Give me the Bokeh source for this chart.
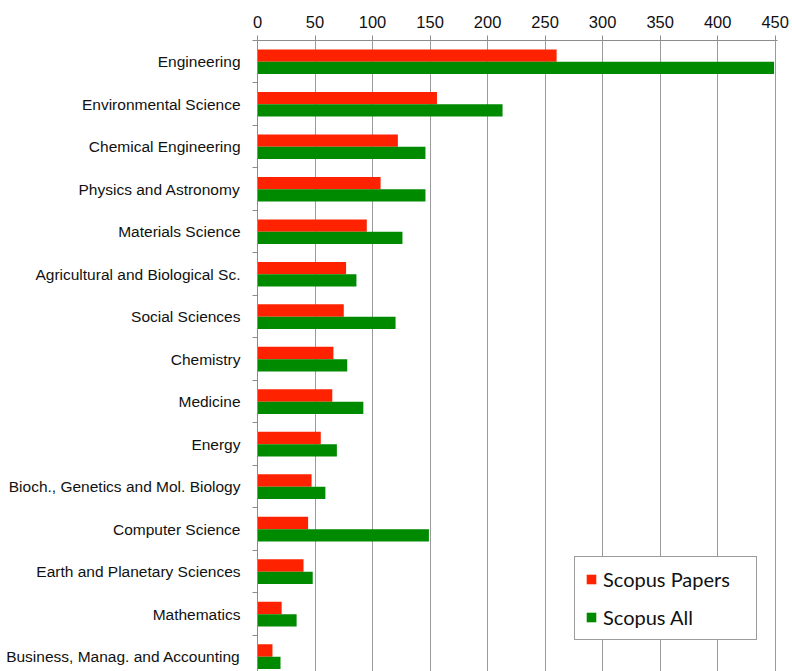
from bokeh.plotting import figure
from bokeh.models import Range1d, FixedTicker, ColumnDataSource, Legend, LegendItem
from bokeh.transform import dodge
from bokeh.embed import file_html
from bokeh.resources import INLINE

categories = [
    "Engineering", "Environmental Science", "Chemical Engineering",
    "Physics and Astronomy", "Materials Science", "Agricultural and Biological Sc.",
    "Social Sciences", "Chemistry", "Medicine", "Energy",
    "Bioch., Genetics and Mol. Biology", "Computer Science",
    "Earth and Planetary Sciences", "Mathematics", "Business, Manag. and Accounting",
]
scopus_papers = [260, 156, 122, 107, 95, 77, 75, 66, 65, 55, 47, 44, 40, 21, 13]
scopus_all = [449, 213, 146, 146, 126, 86, 120, 78, 92, 69, 59, 149, 48, 34, 20]
x_ticks = [0, 50, 100, 150, 200, 250, 300, 350, 400, 450]

pos = list(range(len(categories)))
src = ColumnDataSource(dict(y=pos, papers=scopus_papers, all=scopus_all))

p = figure(width=792, height=671, output_backend="svg", toolbar_location=None,
           x_axis_location="above",
           x_range=Range1d(0, 452), y_range=Range1d(14.35, -0.5),
           min_border_left=257, min_border_right=15, min_border_top=40, min_border_bottom=0)
p.outline_line_color = None

r1 = p.hbar(y=dodge("y", -0.145, range=p.y_range), right="papers", left=0, height=0.29,
            source=src, fill_color="#FF2200", line_color=None)
r2 = p.hbar(y=dodge("y", 0.145, range=p.y_range), right="all", left=0, height=0.29,
            source=src, fill_color="#008A00", line_color=None)

# x axis (top)
xa = p.xaxis[0]
xa.ticker = FixedTicker(ticks=x_ticks)
xa.minor_tick_line_color = None
xa.major_tick_out = 5
xa.major_tick_in = 0
xa.major_label_standoff = 8
xa.axis_line_color = "#8c8c8c"
xa.major_tick_line_color = "#8c8c8c"
xa.major_label_text_font = "Liberation Sans"
xa.major_label_text_font_size = "16.5px"
xa.major_label_text_color = "#111111"

# y axis (left)
ya = p.yaxis[0]
ya.ticker = FixedTicker(ticks=pos, minor_ticks=[i - 0.5 for i in range(len(categories) + 1)])
ya.major_label_overrides = {i: c for i, c in enumerate(categories)}
ya.major_tick_line_color = None
ya.major_tick_out = 0
ya.major_tick_in = 0
ya.minor_tick_out = 5
ya.minor_tick_in = 0
ya.minor_tick_line_color = "#8c8c8c"
ya.axis_line_color = "#8c8c8c"
ya.major_label_standoff = 12
ya.major_label_text_font = "Liberation Sans"
ya.major_label_text_font_size = "15.5px"
ya.major_label_text_color = "#111111"

p.xgrid.grid_line_color = "#9a9a9a"
p.xgrid.ticker = FixedTicker(ticks=x_ticks)
p.ygrid.grid_line_color = None

legend = Legend(items=[LegendItem(label="Scopus Papers", renderers=[r1]),
                       LegendItem(label="Scopus All", renderers=[r2])],
                location=(317, 31))
legend.label_text_font = "Lato"
legend.label_text_font_size = "20px"
legend.label_text_color = "#111111"
legend.glyph_width = 12
legend.glyph_height = 12
legend.label_height = 22
legend.label_width = 143
legend.label_standoff = 6
legend.spacing = 14
legend.padding = 10
legend.margin = 0
legend.border_line_color = "#3a3a3a"
legend.border_line_width = 1
legend.background_fill_color = "white"
legend.background_fill_alpha = 1
p.add_layout(legend)

open("out.html", "w").write(file_html(p, INLINE))
